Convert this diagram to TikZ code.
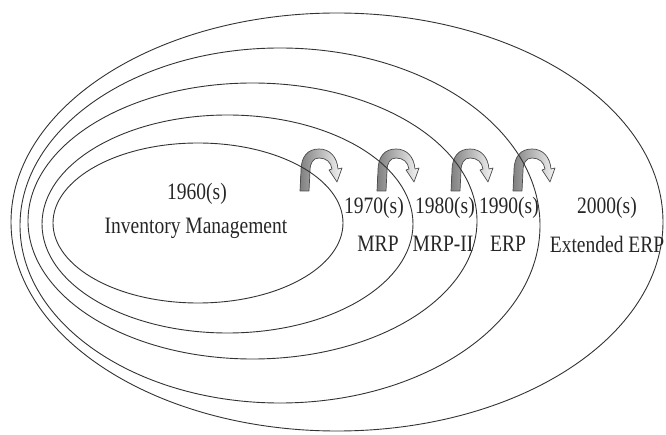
\documentclass[tikz,border=0pt]{standalone}
\usepackage{fontspec}
\setmainfont{Liberation Serif}
\begin{document}
\begin{tikzpicture}[x=1pt,y=-1pt,
  era/.style={draw=black!80,line width=0.9pt},
  lbl/.style={font=\fontsize{23.5}{24}\selectfont,text=black!85,inner sep=0pt,xscale=0.83},
  curvedarrow/.pic={
    \shadedraw[left color=black!50,right color=black!4,draw=black!70,line width=0.7pt,line join=round]
      (0,0) -- (1,-20) .. controls (1,-35) and (8,-42) .. (19,-42)
      .. controls (30,-42) and (37,-34) .. (38,-22)
      -- (42,-23) -- (37,-9) -- (29,-21) -- (32,-22)
      .. controls (31,-29) and (26,-33) .. (19,-33)
      .. controls (13,-33) and (10,-28) .. (10,-20) -- (9,0) -- cycle;
  }]
\useasboundingbox (0,0) rectangle (666,435);
% arrows
\pic at (300,191) {curvedarrow};
\pic at (377,191) {curvedarrow};
\pic at (451,191) {curvedarrow};
\pic at (513,191) {curvedarrow};
% ellipses (inner to outer)
\draw[era] (198,223) ellipse [x radius=145pt, y radius=80pt];
\draw[era] (227.5,224) ellipse [x radius=185.5pt, y radius=109pt];
\draw[era] (252.5,221) ellipse [x radius=224.5pt, y radius=138pt];
\draw[era] (280,225.5) ellipse [x radius=260pt, y radius=177.5pt];
\draw[era] (337,222) ellipse [x radius=326pt, y radius=209pt];
% labels
\node[lbl] (y60) at (197,194) {1960(s)};
\node[lbl] (n60) at (196,228) {Inventory Management};
\node[lbl] (y70) at (374,208) {1970(s)};
\node[lbl] (n70) at (378,244) {MRP};
\node[lbl] (y80) at (445,208) {1980(s)};
\node[lbl] (n80) at (443,244) {MRP-II};
\node[lbl] (y90) at (509,208) {1990(s)};
\node[lbl] (n90) at (508,244) {ERP};
\node[lbl] (y00) at (607,208) {2000(s)};
\node[lbl] (n00) at (607,244) {Extended ERP};
\end{tikzpicture}
\end{document}
